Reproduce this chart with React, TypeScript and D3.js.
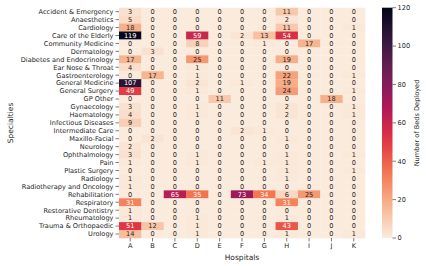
import React from "react";
import * as d3 from "d3";

const hospitals = ["A", "B", "C", "D", "E", "F", "G", "H", "I", "J", "K"];
const specialties = [
  "Accident & Emergency", "Anaesthetics", "Cardiology", "Care of the Elderly",
  "Community Medicine", "Dermatology", "Diabetes and Endocrinology", "Ear Nose & Throat",
  "Gastroenterology", "General Medicine", "General Surgery", "GP Other", "Gynaecology",
  "Haematology", "Infectious Diseases", "Intermediate Care", "Maxillo-Facial", "Neurology",
  "Ophthalmology", "Pain", "Plastic Surgery", "Radiology", "Radiotherapy and Oncology",
  "Rehabilitation", "Respiratory", "Restorative Dentistry", "Rheumatology",
  "Trauma & Orthopaedic", "Urology",
];
const beds: number[][] = [
  [3, 0, 0, 0, 0, 0, 0, 11, 0, 0, 0],
  [5, 0, 0, 0, 0, 0, 0, 2, 0, 0, 0],
  [18, 0, 0, 0, 0, 0, 0, 11, 0, 0, 1],
  [119, 0, 0, 59, 0, 2, 13, 54, 0, 0, 0],
  [0, 0, 0, 8, 0, 0, 1, 0, 17, 0, 0],
  [0, 3, 0, 0, 0, 0, 0, 0, 0, 0, 0],
  [17, 0, 0, 25, 0, 0, 0, 19, 0, 0, 0],
  [4, 0, 0, 1, 0, 0, 0, 0, 0, 0, 0],
  [0, 17, 0, 1, 0, 0, 0, 22, 0, 0, 1],
  [107, 0, 0, 2, 0, 1, 0, 19, 0, 0, 0],
  [49, 0, 0, 1, 0, 0, 0, 24, 0, 0, 1],
  [0, 0, 0, 0, 11, 0, 0, 0, 0, 18, 0],
  [3, 0, 0, 1, 0, 0, 0, 2, 0, 0, 1],
  [4, 0, 0, 1, 0, 0, 0, 2, 0, 0, 1],
  [9, 0, 0, 0, 0, 0, 0, 0, 0, 0, 0],
  [0, 0, 0, 0, 0, 2, 1, 0, 0, 0, 0],
  [0, 2, 0, 0, 0, 0, 0, 1, 0, 0, 0],
  [2, 0, 0, 0, 0, 0, 0, 0, 0, 0, 0],
  [3, 0, 0, 1, 0, 0, 0, 1, 0, 0, 1],
  [1, 0, 0, 1, 0, 0, 1, 1, 0, 0, 0],
  [0, 0, 0, 0, 0, 0, 0, 1, 0, 0, 1],
  [1, 0, 0, 0, 0, 0, 0, 1, 0, 0, 0],
  [1, 0, 0, 0, 0, 0, 0, 0, 0, 0, 0],
  [0, 0, 65, 35, 0, 73, 34, 6, 25, 0, 0],
  [31, 0, 0, 0, 0, 0, 0, 31, 0, 0, 0],
  [1, 0, 0, 0, 0, 0, 0, 0, 0, 0, 0],
  [1, 0, 0, 1, 0, 0, 0, 1, 0, 0, 0],
  [51, 12, 0, 1, 0, 0, 0, 43, 0, 0, 0],
  [14, 0, 0, 1, 0, 0, 0, 1, 0, 0, 1],
];
const colorTicks = [0, 20, 40, 60, 80, 100, 120];

// rocket colormap stops (0..1), used reversed
const rocketStops = ["#03051a", "#35193e", "#701f57", "#ad1759", "#e13342", "#f37651", "#f6b48f", "#faebdd"];
const rocket = d3.scaleLinear<string>()
  .domain(d3.range(rocketStops.length).map((i) => i / (rocketStops.length - 1)))
  .range(rocketStops)
  .interpolate(d3.interpolateRgb);

const vmax = 120;
const color = (v: number) => rocket(1 - Math.min(v, vmax) / vmax);

function luminance(c: string) {
  const rgb = d3.rgb(c);
  const f = (x: number) => {
    const s = x / 255;
    return s <= 0.03928 ? s / 12.92 : Math.pow((s + 0.055) / 1.055, 2.4);
  };
  return 0.2126 * f(rgb.r) + 0.7152 * f(rgb.g) + 0.0722 * f(rgb.b);
}

const FONT = "DejaVu Sans, sans-serif";

export default function App() {
  const W = 426, H = 266;
  const x = d3.scaleBand<string>().domain(hospitals).range([119, 365]).padding(0);
  const y = d3.scaleBand<string>().domain(specialties).range([7.7, 238]).padding(0);
  const cbX0 = 382, cbW = 10.5;
  const cbY = d3.scaleLinear().domain([0, vmax]).range([238, 7.7]);
  const gradStops = d3.range(0, 1.0001, 0.05);

  return (
    <svg width={W} height={H} style={{ position: "absolute", left: 0, top: 0, background: "#fff" }} fontFamily={FONT}>
      <defs>
        <linearGradient id="cbgrad" x1="0" y1="1" x2="0" y2="0">
          {gradStops.map((t) => (
            <stop key={t} offset={t} stopColor={color(t * vmax)} />
          ))}
        </linearGradient>
      </defs>
      {specialties.map((s, i) =>
        hospitals.map((h, j) => {
          const v = beds[i][j];
          const c = color(v);
          const tc = luminance(c) > 0.408 ? "#262626" : "#ffffff";
          return (
            <g key={s + h}>
              <rect x={x(h)!} y={y(s)!} width={x.bandwidth() + 0.3} height={y.bandwidth() + 0.3} fill={c} />
              <text x={x(h)! + x.bandwidth() / 2} y={y(s)! + y.bandwidth() / 2} dy="0.35em" textAnchor="middle" fontSize={6.6} fill={tc}>
                {v}
              </text>
            </g>
          );
        })
      )}
      {specialties.map((s) => (
        <g key={s}>
          <line x1={115.5} x2={119} y1={y(s)! + y.bandwidth() / 2} y2={y(s)! + y.bandwidth() / 2} stroke="#262626" strokeWidth={0.6} />
          <text x={113.5} y={y(s)! + y.bandwidth() / 2} dy="0.35em" textAnchor="end" fontSize={6.6} fill="#262626">
            {s}
          </text>
        </g>
      ))}
      {hospitals.map((h) => (
        <g key={h}>
          <line x1={x(h)! + x.bandwidth() / 2} x2={x(h)! + x.bandwidth() / 2} y1={238} y2={241.5} stroke="#262626" strokeWidth={0.6} />
          <text x={x(h)! + x.bandwidth() / 2} y={243.5} dy="0.71em" textAnchor="middle" fontSize={6.6} fill="#262626">
            {h}
          </text>
        </g>
      ))}
      <text x={242} y={259.5} textAnchor="middle" fontSize={7.5} fill="#262626">Hospitals</text>
      <text transform={`translate(12.5,123) rotate(-90)`} textAnchor="middle" fontSize={7.5} fill="#262626">Specialties</text>
      <rect x={cbX0} y={7.7} width={cbW} height={238 - 7.7} fill="url(#cbgrad)" />
      {colorTicks.map((t) => (
        <g key={t}>
          <line x1={cbX0 + cbW} x2={cbX0 + cbW + 3.5} y1={cbY(t)} y2={cbY(t)} stroke="#262626" strokeWidth={0.6} />
          <text x={cbX0 + cbW + 5} y={cbY(t)} dy="0.35em" fontSize={6.6} fill="#262626">{t}</text>
        </g>
      ))}
      <text transform={`translate(419,123) rotate(-90)`} textAnchor="middle" fontSize={6.6} fill="#262626">Number of Beds Deployed</text>
    </svg>
  );
}
